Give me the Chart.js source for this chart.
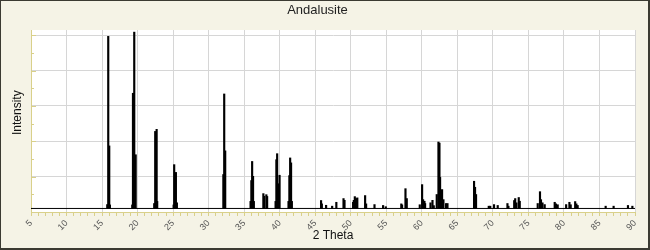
<!DOCTYPE html>
<html>
<head>
<meta charset="utf-8">
<script src="https://cdn.jsdelivr.net/npm/chart.js@4.4.0/dist/chart.umd.min.js"></script>
<style>
  html, body { margin: 0; padding: 0; background: #f5f3e6; }
</style>
</head>
<body>
<canvas id="xrdChart" width="650" height="250"></canvas>
<script>
// peak positions (2 theta) and intensities
const peakTheta = [
  15.73, 15.87, 16.01, 16.11, 19.25, 19.35, 19.53, 19.73, 22.34, 22.48, 22.68, 22.76,
  25.07, 25.15, 25.27, 25.39, 25.53, 32.07, 32.19, 32.33, 35.90, 36.01, 36.12, 36.25,
  36.36, 37.70, 37.81, 38.12, 38.23, 39.42, 39.53, 39.64, 39.74, 39.84, 39.98, 41.24,
  41.36, 41.47, 41.60, 41.71, 45.82, 45.93, 46.53, 47.38, 47.97, 48.98, 49.12, 50.33,
  50.43, 50.57, 50.75, 50.92, 52.02, 52.16, 53.34, 54.55, 54.93, 57.11, 57.22, 57.70,
  57.88, 59.71, 60.04, 60.18, 60.37, 60.46, 61.22, 61.50, 61.68, 62.10, 62.34, 62.48,
  62.57, 62.71, 62.85, 63.04, 63.41, 63.61, 67.35, 67.49, 67.63, 69.42, 69.63, 70.16,
  70.68, 72.05, 72.19, 73.00, 73.14, 73.31, 73.64, 73.78, 76.31, 76.63, 76.77, 76.98,
  77.29, 78.70, 78.88, 79.12, 80.31, 80.77, 80.95, 81.58, 81.75, 81.93, 85.87, 86.99,
  89.01, 89.63
];
const peakIntensity = [
  210, 4970, 1870, 200, 200, 3360, 5090, 1620, 240, 2280, 2340, 300,
  200, 1340, 960, 1120, 260, 1060, 3340, 1730, 300, 890, 1430, 1010,
  300, 520, 445, 490, 440, 300, 1480, 1650, 690, 800, 1040, 300,
  1030, 1530, 1390, 300, 325, 230, 190, 165, 275, 380, 330, 275,
  330, 435, 380, 400, 465, 230, 210, 185, 150, 230, 200, 660,
  380, 205, 775, 350, 305, 240, 260, 330, 180, 495, 1980, 1950,
  980, 585, 635, 350, 240, 240, 870, 700, 495, 165, 165, 210,
  185, 240, 165, 325, 380, 260, 410, 305, 240, 575, 350, 260,
  210, 275, 230, 205, 210, 275, 205, 295, 230, 185, 165, 165,
  185, 165
];
const baselineLevel = 100;
const thetaMin = 5;
const thetaMax = 90;
const intensityMax = 5150;
const intensityStep = 500;   // minor tick spacing, grid every second one

const AXIS_COLOR = '#d9d08a';
const GRID_COLOR = '#d6d6d6';
const FONT = "'Liberation Sans', Arial, sans-serif";

const peaks = peakTheta.map((t, i) => ({x: t, y: peakIntensity[i]}));

const framePlugin = {
  id: 'frame',
  beforeDraw(chart) {
    const {ctx, width, height, chartArea: a} = chart;
    ctx.save();
    ctx.fillStyle = '#f5f3e6';
    ctx.fillRect(0, 0, width, height);
    ctx.fillStyle = '#ffffff';
    ctx.fillRect(a.left, a.top, a.right - a.left, a.bottom - a.top);
    ctx.strokeStyle = '#3b3a32';
    ctx.lineWidth = 1;
    ctx.strokeRect(0.5, 0.5, width - 1, height - 1);
    ctx.fillStyle = '#3b3a32';
    ctx.fillRect(width - 2, 0, 2, height);
    ctx.fillRect(0, height - 2, width, 2);
    ctx.restore();
  },
  afterDraw(chart) {
    // small inward tick marks on the intensity axis
    const {ctx, chartArea: a} = chart;
    const y = chart.scales.y;
    ctx.save();
    ctx.strokeStyle = AXIS_COLOR;
    ctx.lineWidth = 1;
    y.ticks.forEach(t => {
      if (t.value <= 0) return;
      const py = Math.round(y.getPixelForValue(t.value)) + 0.5;
      const len = t.value % (2 * intensityStep) === 0 ? 5 : 3;
      ctx.beginPath();
      ctx.moveTo(a.left, py);
      ctx.lineTo(a.left + len, py);
      ctx.stroke();
    });
    ctx.restore();
  }
};

new Chart(document.getElementById('xrdChart'), {
  type: 'bar',
  data: {
    datasets: [
      {
        type: 'line',
        data: [{x: thetaMin, y: baselineLevel}, {x: thetaMax, y: baselineLevel}],
        borderColor: '#000',
        borderWidth: 1,
        pointRadius: 0
      },
      {
        data: peaks,
        base: baselineLevel,
        backgroundColor: '#000',
        borderWidth: 0,
        barThickness: 1.5
      }
    ]
  },
  options: {
    responsive: false,
    animation: false,
    layout: {padding: {top: 0, left: 0, right: 15, bottom: 0}},
    plugins: {
      legend: {display: false},
      tooltip: {enabled: false},
      title: {
        display: true,
        text: 'Andalusite',
        color: '#222',
        font: {family: FONT, size: 13, weight: 'normal', lineHeight: '16px'},
        padding: {top: 2, bottom: 12}
      }
    },
    scales: {
      x: {
        type: 'linear',
        min: thetaMin,
        max: thetaMax,
        offset: false,
        border: {color: AXIS_COLOR},
        grid: {
          offset: false,
          color: c => (c.tick && c.tick.value % 5 === 0 && c.tick.value !== thetaMin) ? GRID_COLOR : 'rgba(0,0,0,0)',
          tickColor: AXIS_COLOR,
          tickLength: 4
        },
        ticks: {
          stepSize: 1,
          autoSkip: false,
          minRotation: 45,
          maxRotation: 45,
          padding: 2,
          color: '#555',
          font: {family: FONT, size: 9},
          callback: v => v % 5 === 0 ? v : ''
        },
        title: {
          display: true,
          text: '2 Theta',
          color: '#111',
          font: {family: FONT, size: 12},
          padding: {top: 0, bottom: 7}
        },
        afterFit: s => { s.height = 38; s.paddingLeft = 0; s.paddingRight = 0; }
      },
      y: {
        type: 'linear',
        min: 0,
        max: intensityMax,
        border: {color: AXIS_COLOR},
        grid: {
          color: c => (c.tick && c.tick.value > 0 && c.tick.value % (2 * intensityStep) === 0) ? GRID_COLOR : 'rgba(0,0,0,0)',
          drawTicks: false
        },
        ticks: {display: false},
        afterBuildTicks: s => {
          const list = [];
          for (let v = 0; v <= intensityMax; v += intensityStep) list.push({value: v});
          s.ticks = list;
        },
        title: {
          display: true,
          text: '     Intensity',
          color: '#111',
          font: {family: FONT, size: 12},
          padding: {top: 10, bottom: 0}
        },
        afterFit: s => { s.width = 31; s.paddingTop = 0; s.paddingBottom = 0; }
      }
    }
  },
  plugins: [framePlugin]
});
</script>
</body>
</html>
